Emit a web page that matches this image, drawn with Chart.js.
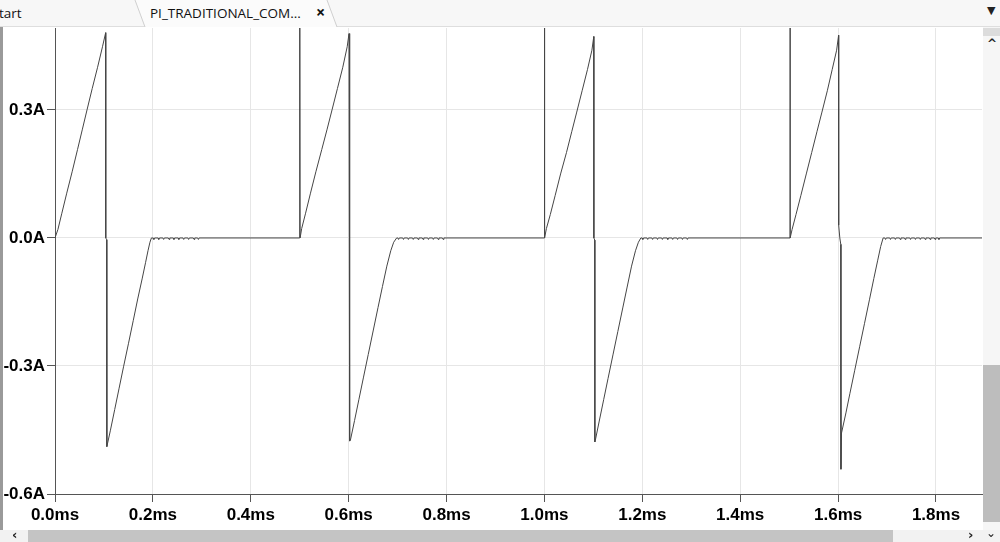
<!DOCTYPE html>
<html>
<head>
<meta charset="utf-8">
<script src="https://cdn.jsdelivr.net/npm/chart.js@4.4.1/dist/chart.umd.min.js"></script>
<style>
  html, body { margin:0; padding:0; background:#fff; width:1000px; height:542px; overflow:hidden; }
  #wrap { position:absolute; left:0; top:0; width:983px; height:530px; }
  #tabbar { position:absolute; left:0; top:0; width:1000px; height:26px; background:#f7f7f7; border-bottom:1px solid #dedede; z-index:5; font-family:"Open Sans", "Noto Sans", sans-serif; font-size:13.5px; color:#111; }
  #tabbar .t { position:absolute; top:4px; white-space:nowrap; }
  #leftbar { position:absolute; left:0; top:27px; width:3px; height:503px; background:#9a9a9a; z-index:5; }
  #vscroll { position:absolute; left:983px; top:27px; width:17px; height:503px; background:#f6f6f6; z-index:5; }
  #vthumb { position:absolute; left:983px; top:365px; width:17px; height:157px; background:#bdbdbd; z-index:6; }
  #vtop { position:absolute; left:983px; top:28px; width:17px; height:8px; background:#dcdcdc; z-index:6; }
  #hscroll { position:absolute; left:0; top:530px; width:1000px; height:12px; background:#f2f2f2; z-index:5; }
  #hthumb { position:absolute; left:28px; top:530px; width:865px; height:12px; background:#c4c4c4; z-index:6; }
  .glyph { position:absolute; z-index:7; font-family:"DejaVu Sans", sans-serif; color:#222; }
</style>
</head>
<body>
<div id="wrap"><canvas id="c" width="983" height="530"></canvas></div>
<div id="tabbar">
  <svg width="1000" height="27" style="position:absolute;left:0;top:0">
    <polygon points="135,0 327,0 337,27 145,27" fill="#fbfbfb" stroke="none"/>
    <line x1="135" y1="0" x2="145" y2="27" stroke="#cfcfcf" stroke-width="1"/>
    <line x1="327" y1="0" x2="337" y2="27" stroke="#cfcfcf" stroke-width="1"/>
  </svg>
  <span class="t" style="left:-1px">tart</span>
  <span class="t" style="left:150px">PI_TRADITIONAL_COM...</span>
  <span class="t" style="left:316px;font-weight:bold;font-size:16px;top:1px">×</span>
</div>
<div id="leftbar"></div>
<div id="vscroll"></div>
<div id="vtop"></div>
<div id="vthumb"></div>
<div id="hscroll"></div>
<div id="hthumb"></div>
<div class="glyph" style="left:987px;top:4px;font-size:11px">▼</div>
<div class="glyph" style="left:987px;top:37px;font-size:12px;font-weight:bold">^</div>
<div class="glyph" style="left:12px;top:527px;font-size:13px;font-weight:bold">‹</div>
<div class="glyph" style="left:968px;top:527px;font-size:13px;font-weight:bold">›</div>
<div class="glyph" style="left:986px;top:526px;font-size:12px">⌄</div>
<script>
// ---- data (time in ms, current in A) ----
const xTicksMs = [0.0, 0.2, 0.4, 0.6, 0.8, 1.0, 1.2, 1.4, 1.6, 1.8];
const yTicksA  = [-0.6, -0.3, 0.0, 0.3];

// period 1
const p1T = [0.002, 0.006, 0.014, 0.024, 0.035, 0.046, 0.056, 0.0654, 0.076, 0.087, 0.097, 0.1035, 0.1037, 0.1055, 0.1057, 0.1062, 0.113, 0.122, 0.131, 0.140, 0.150, 0.160, 0.169, 0.178, 0.185, 0.190, 0.194, 0.197];
const p1I = [0.0, 0.02, 0.058, 0.105, 0.155, 0.207, 0.255, 0.30, 0.35, 0.40, 0.448, 0.481, 0.0, -0.004, -0.489, -0.489, -0.452, -0.402, -0.352, -0.302, -0.248, -0.193, -0.143, -0.096, -0.058, -0.03, -0.01, 0.0];
const p1Dips = [0.202, 0.212, 0.222, 0.233, 0.243, 0.253, 0.263, 0.273, 0.284, 0.293];

// period 2
const p2T = [0.5, 0.5, 0.5008, 0.504, 0.512, 0.522, 0.533, 0.545, 0.556, 0.566, 0.577, 0.588, 0.597, 0.6007, 0.6009, 0.6025, 0.6027, 0.6035, 0.612, 0.621, 0.63, 0.64, 0.65, 0.66, 0.669, 0.678, 0.686, 0.692, 0.698];
const p2I = [0.0, 0.8, 0.0, 0.022, 0.058, 0.105, 0.155, 0.207, 0.255, 0.30, 0.35, 0.40, 0.448, 0.479, 0.0, -0.005, -0.476, -0.474, -0.428, -0.378, -0.328, -0.273, -0.218, -0.163, -0.114, -0.066, -0.03, -0.01, 0.0];
const p2Dips = [0.702, 0.712, 0.722, 0.732, 0.742, 0.752, 0.763, 0.773, 0.783, 0.793];

// period 3
const p3T = [1.0, 1.0, 1.0008, 1.004, 1.012, 1.022, 1.033, 1.045, 1.056, 1.066, 1.077, 1.088, 1.097, 1.1008, 1.101, 1.1028, 1.103, 1.104, 1.112, 1.121, 1.13, 1.14, 1.15, 1.16, 1.169, 1.178, 1.186, 1.192, 1.197];
const p3I = [0.0, 0.8, 0.0, 0.022, 0.055, 0.10, 0.15, 0.20, 0.25, 0.295, 0.345, 0.395, 0.44, 0.472, 0.0, -0.005, -0.478, -0.474, -0.429, -0.379, -0.329, -0.274, -0.219, -0.164, -0.115, -0.066, -0.03, -0.01, 0.0];
const p3Dips = [1.201, 1.211, 1.221, 1.231, 1.241, 1.252, 1.262, 1.272, 1.282, 1.292];

// period 4
const p4T = [1.5018, 1.5018, 1.5025, 1.506, 1.514, 1.524, 1.535, 1.546, 1.557, 1.567, 1.578, 1.588, 1.597, 1.601, 1.6012, 1.6035, 1.6055, 1.6058, 1.607, 1.616, 1.624, 1.634, 1.644, 1.654, 1.664, 1.673, 1.681, 1.687, 1.692];
const p4I = [0.0, 0.8, 0.0, 0.02, 0.055, 0.10, 0.15, 0.20, 0.25, 0.295, 0.345, 0.395, 0.44, 0.475, 0.03, 0.0, -0.015, -0.542, -0.457, -0.41, -0.365, -0.31, -0.255, -0.2, -0.145, -0.095, -0.052, -0.02, 0.0];
const p4Dips = [1.697, 1.707, 1.717, 1.727, 1.737, 1.748, 1.758, 1.768, 1.778, 1.788, 1.798, 1.806];

const dipDepthA = -0.0035;
const xMaxMs = 1.894;
const yMinA = -0.6, yMaxA = 0.492;

function addPeriod(pts, T, I, dips, endZero) {
  for (let k = 0; k < T.length; k++) pts.push({x: T[k], y: I[k]});
  for (const d of dips) {
    pts.push({x: d - 0.0015, y: 0});
    pts.push({x: d, y: dipDepthA});
    pts.push({x: d + 0.0015, y: 0});
  }
  pts.push({x: endZero, y: 0});
}
const points = [{x: 0, y: 0}];
addPeriod(points, p1T, p1I, p1Dips, 0.5);
addPeriod(points, p2T, p2I, p2Dips, 1.0);
addPeriod(points, p3T, p3I, p3Dips, 1.5018);
addPeriod(points, p4T, p4I, p4Dips, xMaxMs);

const tickFont = { family: '"Liberation Sans", Arial, sans-serif', size: 17, weight: 'bold' };

new Chart(document.getElementById('c'), {
  type: 'line',
  data: { datasets: [{
    data: points,
    borderColor: '#454545',
    borderWidth: 1,
    pointRadius: 0,
    tension: 0,
    fill: false
  }]},
  options: {
    responsive: false,
    animation: false,
    events: [],
    layout: { padding: { left: 0, top: 28, right: 1, bottom: 0 } },
    plugins: { legend: { display: false }, tooltip: { enabled: false } },
    scales: {
      x: {
        type: 'linear',
        min: 0, max: xMaxMs,
        afterFit: s => { s.height = 36; },
        afterBuildTicks: s => { s.ticks = xTicksMs.map(v => ({value: v})); },
        ticks: { font: tickFont, color: '#000', padding: 3, maxRotation: 0, autoSkip: false,
                 callback: v => v.toFixed(1) + 'ms' },
        grid: { color: '#e6e6e6', tickColor: '#555', tickLength: 8 },
        border: { color: '#555', width: 1 }
      },
      y: {
        type: 'linear',
        min: yMinA, max: yMaxA,
        afterFit: s => { s.width = 55; },
        afterBuildTicks: s => { s.ticks = yTicksA.map(v => ({value: v})); },
        ticks: { font: tickFont, color: '#000', padding: 2, autoSkip: false,
                 callback: v => (Math.abs(v) < 1e-9 ? 0 : v).toFixed(1) + 'A' },
        grid: { color: '#e6e6e6', tickColor: '#555', tickLength: 8 },
        border: { color: '#555', width: 1 }
      }
    }
  }
});
</script>
</body>
</html>
